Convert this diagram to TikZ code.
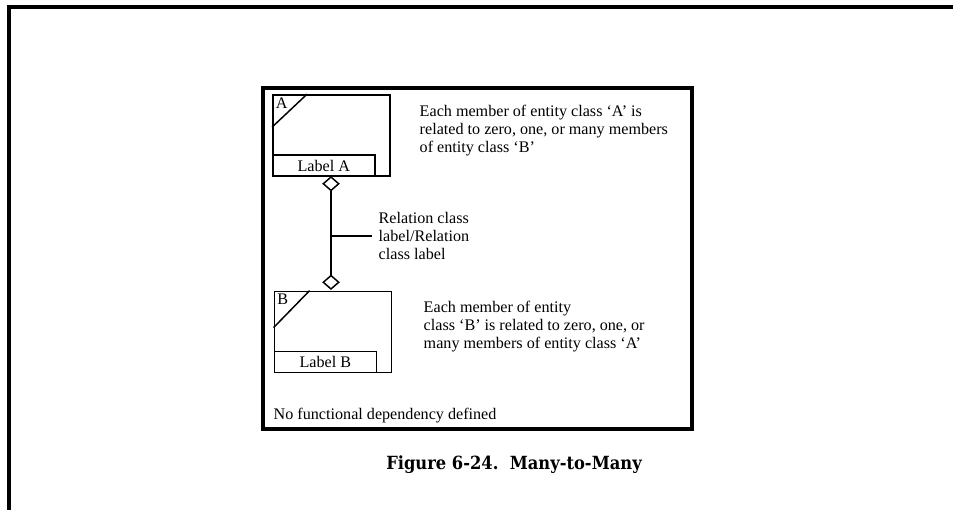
\documentclass[tikz,border=0pt]{standalone}
\usepackage{fontspec}
\setmainfont{Liberation Serif}
\newfontfamily\titlefont{DejaVu Serif Condensed}
\usetikzlibrary{shapes.geometric,calc}

\begin{document}
\begin{tikzpicture}[x=0.75pt, y=-0.75pt, line width=1.1pt,
        every node/.style={font=\fontsize{12.1}{13.5}\selectfont},
        entity/.style={draw, minimum width=88pt, minimum height=61pt, inner sep=0pt},
        labelbox/.style={draw, anchor=south west, minimum width=76.5pt, minimum height=15.75pt, inner sep=0pt},
        card/.style={draw, diamond, fill=white, aspect=1.15, minimum width=12pt, minimum height=10.5pt, inner sep=0pt},
        note/.style={align=left, anchor=north west, inner sep=0pt}]
        \useasboundingbox (0,0) rectangle (953,510);

        % page frame
        \draw[line width=2.3pt] (9,510) -- (9,7) -- (953,7);
        \draw[line width=2.3pt] (263,88) rectangle (692,429);

        % entity A
        \node[entity] (entA) at (331.5,135.5) {};
        \node[labelbox] (labA) at (entA.south west) {Label A};
        \draw ($(entA.north west)+(0,33)$) -- ($(entA.north west)+(35,0)$);
        \node[anchor=north west, inner sep=2.2pt] (tagA) at (entA.north west) {A};

        % entity B
        \node[entity] (entB) at (333,332) {};
        \node[labelbox] (labB) at (entB.south west) {Label B};
        \draw ($(entB.north west)+(0,37)$) -- ($(entB.north west)+(36,0)$);
        \node[anchor=north west, inner sep=2.2pt] (tagB) at (entB.north west) {B};

        % relation
        \node[card, anchor=north] (cardA) at (331,176) {};
        \node[card, anchor=south] (cardB) at (331,290) {};
        \draw (cardA.south) -- (cardB.north);
        \node[align=left, anchor=west, inner xsep=4.5pt, inner ysep=0pt] (rel) at (372,236) {Relation class\\label/Relation\\class label};
        \coordinate (relmid) at (331,236);
        \draw (relmid) -- (rel.west);

        % notes
        \node[note] (noteA) at (419,104) {Each member of entity class ‘A’ is\\related to zero, one, or many members\\of entity class ‘B’};
        \node[note] (noteB) at (423,300) {Each member of entity\\class ‘B’ is related to zero, one, or\\many members of entity class ‘A’};
        \node[note] (nofd) at (273,407) {No functional dependency defined};

        \node[font=\titlefont\bfseries\fontsize{13.6}{16}\selectfont] (title) at (514,465) {Figure 6-24.\ \ Many-to-Many};
    \end{tikzpicture}
\end{document}
